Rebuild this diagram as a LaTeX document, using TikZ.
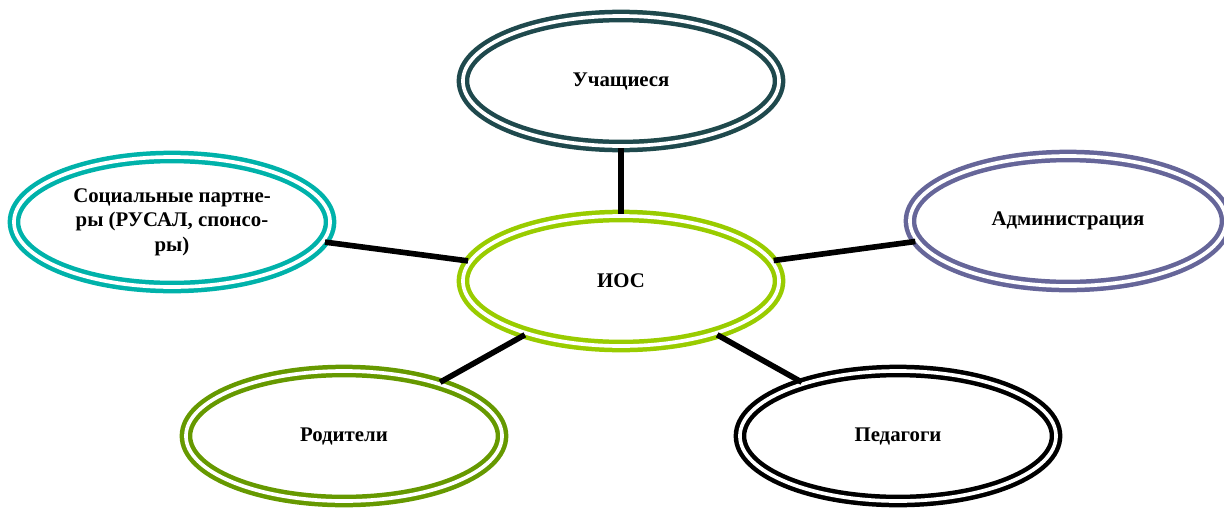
\documentclass[tikz,border=0pt]{standalone}
\usepackage{fontspec}
\setmainfont{Liberation Serif}
\usetikzlibrary{shapes.geometric}

\definecolor{uchcol}{RGB}{31,73,77}
\definecolor{ioscol}{RGB}{153,204,0}
\definecolor{soccol}{RGB}{0,178,170}
\definecolor{admcol}{RGB}{102,102,153}
\definecolor{rodcol}{RGB}{102,153,0}
\definecolor{pedcol}{RGB}{0,0,0}

\begin{document}
\begin{tikzpicture}[x=0.025cm, y=-0.025cm,
            circ/.style={ellipse, draw=#1, line width=3.2pt, double=white, double distance=2.6pt,
                minimum width=7.9cm, minimum height=3.25cm, inner sep=0pt, align=center,
                font=\fontsize{14.8}{17.5}\selectfont\bfseries},
            link/.style={line width=4pt, black}
        ]
            \useasboundingbox (0,0) rectangle (1224,507);
            \node(uch) at (621,81) [circ=uchcol] {Учащиеся};
            \node(ios) at (621,281) [circ=ioscol] {ИОС};
            \node(soc) at (172,222) [circ=soccol] {Социальные партне-\\ры (РУСАЛ, спонсо-\\ры)};
            \node(adm) at (1068,221) [circ=admcol] {Администрация};
            \node(rod) at (344,436) [circ=rodcol] {Родители};
            \node(ped) at (898,436) [circ=pedcol] {Педагоги};
            \draw[link] (uch) -- (ios);
            \draw[link] (soc) -- (ios);
            \draw[link] (adm) -- (ios);
            \draw[link] (rod) -- (ios);
            \draw[link] (ped) -- (ios);
        \end{tikzpicture}
\end{document}
